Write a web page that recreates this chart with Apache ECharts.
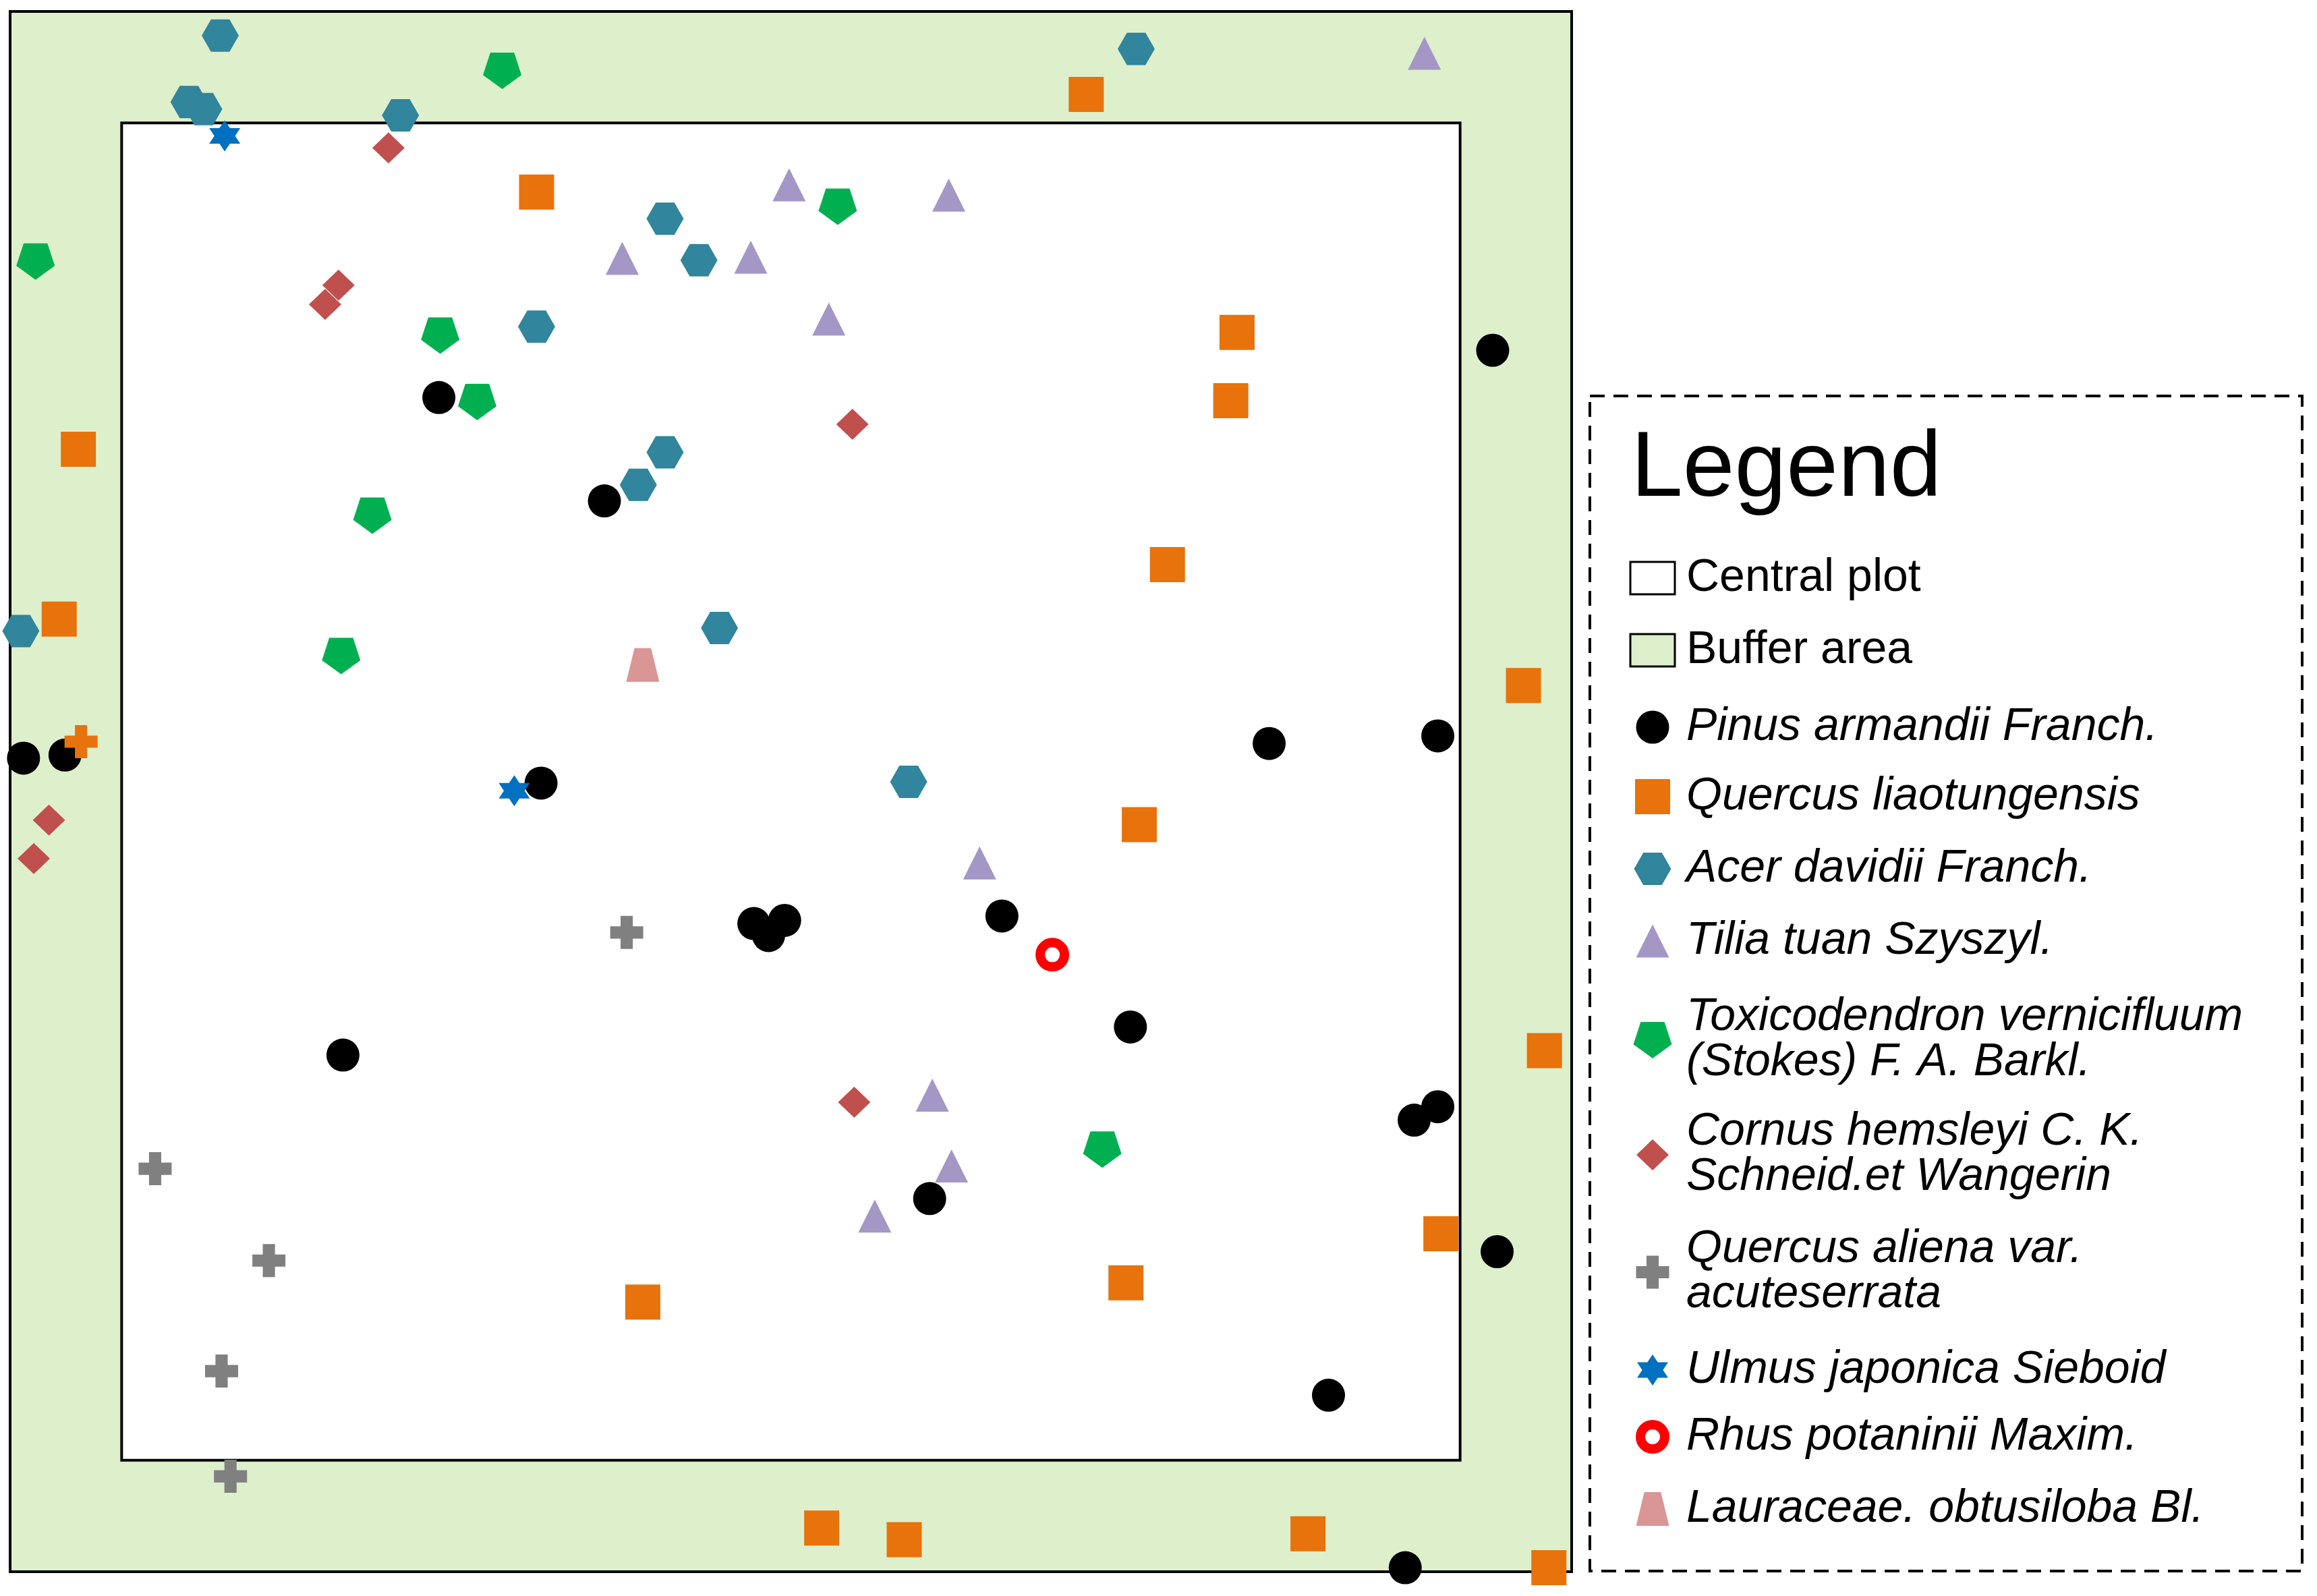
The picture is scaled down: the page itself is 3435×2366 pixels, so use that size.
<!DOCTYPE html>
<html>
<head>
<meta charset="utf-8">
<script src="https://cdn.jsdelivr.net/npm/echarts@6/dist/echarts.min.js"></script>
<style>html,body{margin:0;padding:0;background:#fff}#c{width:3435px;height:2366px}</style>
</head>
<body>
<div id="c"></div>
<script>
// ---------- data (metres) ----------
const plotExtent = [0, 30];        // central plot
const bufferExtent = [-2.5, 32.5]; // plot + buffer area

const pinusArmandii = [[30.73,24.90],[7.11,23.84],[10.82,21.52],[-2.20,15.75],[-1.27,15.82],[9.40,15.19],[25.72,16.08],[29.50,16.25],[14.17,12.04],[14.50,11.77],[14.86,12.11],[19.73,12.21],[22.61,9.72],[4.96,9.09],[28.97,7.63],[29.50,7.93],[18.11,5.87],[30.83,4.68],[27.05,1.46],[28.77,-2.41]];
const quercusLiaotungensis = [[21.62,30.64],[9.30,28.45],[25.00,25.30],[24.86,23.77],[-0.97,22.68],[23.44,20.09],[-1.40,18.87],[31.42,17.38],[22.81,14.26],[31.89,9.19],[29.57,5.08],[22.51,3.98],[11.68,3.55],[15.69,-1.52],[17.54,-1.78],[26.59,-1.65],[31.99,-2.41]];
const acerDavidii = [[2.21,31.96],[22.74,31.66],[1.51,30.47],[1.84,30.31],[6.25,30.17],[12.18,27.85],[12.94,26.92],[9.30,25.43],[12.18,22.61],[11.58,21.88],[-2.26,18.60],[13.40,18.67],[17.64,15.22]];
const tiliaTuan = [[29.20,31.56],[14.96,28.61],[18.54,28.38],[11.22,26.96],[14.10,26.99],[15.85,25.60],[19.23,13.40],[18.17,8.19],[18.60,6.60],[16.88,5.48]];
const toxicodendron = [[8.53,31.17],[16.05,28.12],[-1.93,26.89],[7.14,25.23],[7.97,23.74],[5.62,21.19],[4.92,18.04],[21.98,6.97]];
const cornusHemsleyi = [[5.98,29.44],[4.86,26.36],[4.56,25.93],[16.38,23.24],[-1.63,14.36],[-1.97,13.50],[16.42,8.03]];
const quercusAliena = [[11.32,11.84],[0.75,6.54],[3.30,4.48],[2.24,2.00],[2.44,-0.36]];
const quercusAlienaOrange = [[-0.91,16.12]];
const ulmusJaponica = [[2.31,29.71],[8.80,15.02]];
const rhusPotaninii = [[20.86,11.34]];
const lauraceae = [[11.68,17.84]];

const speciesNames = [
  'Pinus armandii Franch.',
  'Quercus liaotungensis',
  'Acer davidii Franch.',
  'Tilia tuan Szyszyl.',
  'Toxicodendron vernicifluum\n(Stokes) F. A. Barkl.',
  'Cornus hemsleyi C. K.\nSchneid.et Wangerin',
  'Quercus aliena var.\nacuteserrata',
  'Ulmus japonica Sieboid',
  'Rhus potaninii Maxim.',
  'Lauraceae. obtusiloba Bl.'
];
const speciesData = [pinusArmandii, quercusLiaotungensis, acerDavidii, tiliaTuan, toxicodendron, cornusHemsleyi, quercusAliena, ulmusJaponica, rhusPotaninii, lauraceae];

// ---------- shapes & styles ----------
const star6 = [];
for (let i = 0; i < 12; i++) {
  const a = -Math.PI / 2 + i * Math.PI / 6;
  const r = i % 2 === 0 ? 1 : 0.58;
  star6.push([+(r * Math.cos(a)).toFixed(4), +(r * Math.sin(a)).toFixed(4)]);
}
const SHAPES = {
  hexagon: [[-1,0],[-0.5,-0.866],[0.5,-0.866],[1,0],[0.5,0.866],[-0.5,0.866]],
  pentagon: [[0,1],[0.951,0.309],[0.588,-0.809],[-0.588,-0.809],[-0.951,0.309]],
  plus: [[-0.185,-0.5],[0.185,-0.5],[0.185,-0.185],[0.5,-0.185],[0.5,0.185],[0.185,0.185],[0.185,0.5],[-0.185,0.5],[-0.185,0.185],[-0.5,0.185],[-0.5,-0.185],[-0.185,-0.185]],
  trapezoid: [[-0.25,-0.5],[0.25,-0.5],[0.5,0.5],[-0.5,0.5]],
  diamond: [[0,-1],[1,0],[0,1],[-1,0]],
  triangle: [[0,-1],[1,1],[-1,1]],
  square: [[-1,-1],[1,-1],[1,1],[-1,1]],
  star6: star6
};
function toPath(pts) {
  return 'path://' + pts.map((p, i) => (i ? 'L' : 'M') + p[0] + ',' + p[1]).join(' ') + 'Z';
}
const styles = [
  {shape:'circle', size:[49,49], color:'#000000'},
  {shape:'square', size:[52,52], color:'#E8720C'},
  {shape:'hexagon', size:[55,48], color:'#31859C'},
  {shape:'triangle', size:[49,49], color:'#A497C5'},
  {shape:'pentagon', size:[57,54], color:'#00B050'},
  {shape:'diamond', size:[48,46], color:'#C0504D'},
  {shape:'plus', size:[49,49], color:'#808080'},
  {shape:'star6', size:[46,46], color:'#0070C0'},
  {shape:'ring', size:[36,36], color:'#FF0000'},
  {shape:'trapezoid', size:[49,50], color:'#D99694'}
];

// ---------- series ----------
function rectSeries(name, ext, fill, z) {
  return {
    name: name, type: 'custom', z: z, silent: true,
    itemStyle: {color: fill, borderColor: '#000', borderWidth: 4},
    encode: {x: [0, 2], y: [1, 3]},
    data: [[ext[0], ext[0], ext[1], ext[1]]],
    renderItem: function (params, api) {
      const p0 = api.coord([api.value(0), api.value(3)]);
      const p1 = api.coord([api.value(2), api.value(1)]);
      return {type: 'rect', shape: {x: p0[0], y: p0[1], width: p1[0] - p0[0], height: p1[1] - p0[1]},
              style: {fill: fill, stroke: '#000', lineWidth: 4}};
    }
  };
}
const series = [
  rectSeries('Buffer area', bufferExtent, '#DEEFCB', 1),
  rectSeries('Central plot', plotExtent, '#FFFFFF', 2)
];
speciesData.forEach(function (pts, i) {
  const st = styles[i];
  let symbol, itemStyle = {color: st.color, opacity: 1};
  if (st.shape === 'circle') symbol = 'circle';
  else if (st.shape === 'ring') { symbol = 'circle'; itemStyle = {color: '#FFFFFF', borderColor: st.color, borderWidth: 14, opacity: 1}; }
  else symbol = toPath(SHAPES[st.shape]);
  let data = pts.map(p => ({value: p}));
  if (i === 6) {
    data = data.concat(quercusAlienaOrange.map(p => ({value: p, itemStyle: {color: '#E8720C'}})));
  }
  series.push({
    name: speciesNames[i].replace('\n', ' '),
    type: 'scatter', z: 3 + i, clip: false, silent: true,
    symbol: symbol, symbolSize: st.size, symbolKeepAspect: false,
    itemStyle: itemStyle,
    data: data
  });
});

// ---------- legend (graphic) ----------
const legendX = 2450, textX = 2500;
const legendRowY = [1078, 1181, 1288, 1395, 1542, 1712, 1886, 2031, 2130, 2237];
const graphics = [
  {type: 'rect', shape: {x: 2357, y: 587, width: 1056, height: 1742},
   style: {fill: 'none', stroke: '#000', lineWidth: 4, lineDash: [22, 13]}},
  {type: 'text', x: 2418, y: 697,
   style: {text: 'Legend', fontSize: 138, fontFamily: 'Liberation Sans, Arial, sans-serif', fill: '#000', verticalAlign: 'middle'}},
  {type: 'rect', shape: {x: 2417, y: 833, width: 66, height: 48}, style: {fill: '#FFFFFF', stroke: '#000', lineWidth: 3}},
  {type: 'text', x: textX, y: 857, style: {text: 'Central plot', fontSize: 68, fontFamily: 'Liberation Sans, Arial, sans-serif', fill: '#000', verticalAlign: 'middle'}},
  {type: 'rect', shape: {x: 2417, y: 940, width: 66, height: 48}, style: {fill: '#DEEFCB', stroke: '#000', lineWidth: 3}},
  {type: 'text', x: textX, y: 964, style: {text: 'Buffer area', fontSize: 68, fontFamily: 'Liberation Sans, Arial, sans-serif', fill: '#000', verticalAlign: 'middle'}}
];
styles.forEach(function (st, i) {
  const cy = legendRowY[i];
  if (st.shape === 'circle') {
    graphics.push({type: 'circle', shape: {cx: legendX, cy: cy, r: st.size[0] / 2}, style: {fill: st.color}});
  } else if (st.shape === 'ring') {
    graphics.push({type: 'circle', shape: {cx: legendX, cy: cy, r: st.size[0] / 2}, style: {fill: '#fff', stroke: st.color, lineWidth: 14}});
  } else {
    const pts = SHAPES[st.shape];
    const xs = pts.map(p => p[0]), ys = pts.map(p => p[1]);
    const minX = Math.min.apply(null, xs), maxX = Math.max.apply(null, xs);
    const minY = Math.min.apply(null, ys), maxY = Math.max.apply(null, ys);
    const scaled = pts.map(p => [
      legendX - st.size[0] / 2 + (p[0] - minX) / (maxX - minX) * st.size[0],
      cy - st.size[1] / 2 + (p[1] - minY) / (maxY - minY) * st.size[1]
    ]);
    graphics.push({type: 'polygon', shape: {points: scaled}, style: {fill: st.color}});
  }
  graphics.push({type: 'text', x: textX, y: cy,
    style: {text: speciesNames[i], fontSize: 68, lineHeight: 67, fontStyle: 'italic',
            fontFamily: 'Liberation Sans, Arial, sans-serif', fill: '#000', verticalAlign: 'middle'}});
});

// ---------- chart ----------
const chart = echarts.init(document.getElementById('c'), null, {renderer: 'canvas'});
chart.setOption({
  animation: false,
  backgroundColor: '#ffffff',
  grid: {left: 15, top: 17, width: 2315, height: 2313, show: false},
  xAxis: {type: 'value', min: bufferExtent[0], max: bufferExtent[1], show: false, splitLine: {show: false}},
  yAxis: {type: 'value', min: bufferExtent[0], max: bufferExtent[1], show: false, splitLine: {show: false}},
  tooltip: {show: false},
  series: series,
  graphic: graphics
});
</script>
</body>
</html>
